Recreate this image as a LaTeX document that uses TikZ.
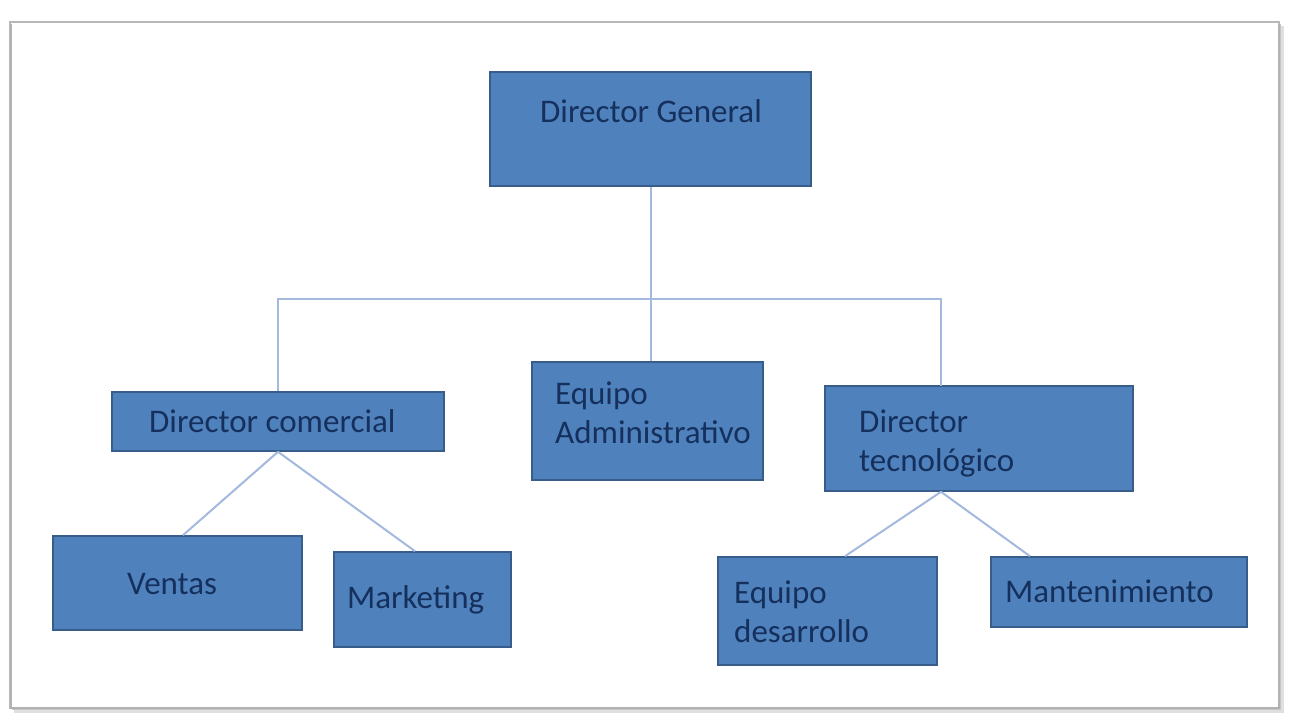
\documentclass[tikz,border=0pt]{standalone}
\usepackage{fontspec}
\setmainfont{Carlito}
\usetikzlibrary{calc}
\definecolor{boxfill}{HTML}{4F81BD}
\definecolor{boxline}{HTML}{385D8A}
\definecolor{txt}{HTML}{15305C}
\definecolor{conncol}{HTML}{A3B9DE}
\definecolor{frameline}{HTML}{B8B8B8}
\tikzset{
  orgbox/.style={rectangle, draw=boxline, line width=1.6pt, fill=boxfill, inner sep=0pt},
  orgtext/.style={text=txt, font=\fontsize{33}{39}\selectfont, inner sep=0pt, align=left},
  conn/.style={draw=conncol, line width=2pt},
}
\begin{document}
\begin{tikzpicture}[x=1pt,y=1pt]
\useasboundingbox (0,0) rectangle (1299,-726);
\fill[white] (0,0) rectangle (1299,-726);
% frame with shadow
\fill[gray!25] (14,-26) rectangle (1284,-713);
\fill[gray!45] (12,-24) rectangle (1281,-710);
\draw[frameline, line width=1.2pt, fill=white] (10,-22) rectangle (1279,-708);
\draw[gray!60, line width=2pt] (10.5,-24) -- (10.5,-708) -- (1279,-708) -- (1279,-24);

% boxes
\node[orgbox, minimum width=321, minimum height=114] (DG) at (650.5,-129) {};
\node[orgbox, minimum width=332, minimum height=59] (DC) at (278,-421.5) {};
\node[orgbox, minimum width=249, minimum height=94] (VE) at (177.5,-583) {};
\node[orgbox, minimum width=177, minimum height=95] (MK) at (422.5,-599.5) {};
\node[orgbox, minimum width=231, minimum height=118] (EA) at (647.5,-421) {};
\node[orgbox, minimum width=308, minimum height=105] (DT) at (979,-438.5) {};
\node[orgbox, minimum width=219, minimum height=108] (ED) at (827.5,-611) {};
\node[orgbox, minimum width=256, minimum height=70] (MA) at (1119,-592) {};

% texts
\node[orgtext, anchor=center] (tDG) at (651,-111) {Director General};
\node[orgtext, anchor=west] (tDC) at (149,-421) {Director comercial};
\node[orgtext, anchor=west] (tVE) at (127,-584) {Ventas};
\node[orgtext, anchor=west] (tMK) at (347,-600) {Marketing};
\node[orgtext, anchor=west] (tEA) at (555,-413) {Equipo\\Administrativo};
\node[orgtext, anchor=west] (tDT) at (859,-443) {Director\\tecnológico};
\node[orgtext, anchor=west] (tED) at (734,-612) {Equipo\\desarrollo};
\node[orgtext, anchor=west] (tMA) at (1005,-591) {Mantenimiento};

% connectors
\coordinate (bus) at (651,-299);
\coordinate (dtTop) at (941,-386);
\draw[conn] (DG.south) -- (DG.south |- EA.north);
\draw[conn] (DC.north) |- (bus);
\draw[conn] (bus) -| (dtTop);
\draw[conn] (DC.south) -- ([xshift=5.5pt]VE.north);
\draw[conn] (DC.south) -- ([xshift=-7.5pt]MK.north);
\draw[conn] ([xshift=-38pt]DT.south) -- ([xshift=17.5pt]ED.north);
\draw[conn] ([xshift=-38pt]DT.south) -- ([xshift=-89pt]MA.north);
\end{tikzpicture}
\end{document}
